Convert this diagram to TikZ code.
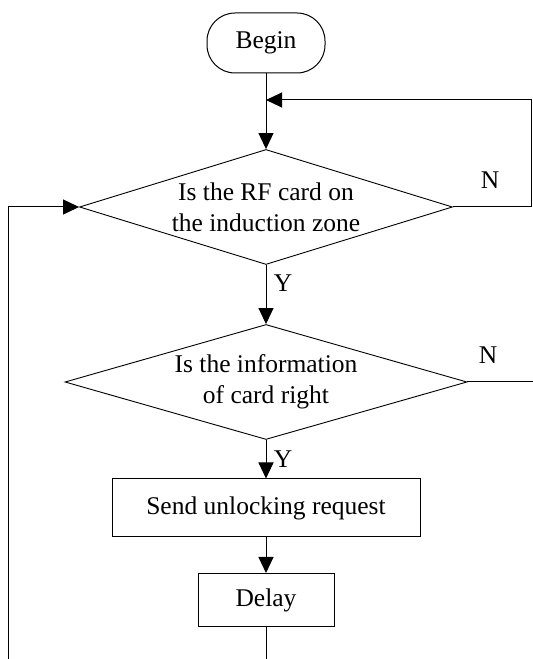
\documentclass[tikz,border=0pt]{standalone}
\usepackage{fontspec}
\setmainfont{Liberation Serif}
\usepackage{tikz}
\usetikzlibrary{shapes,arrows.meta,positioning}

\begin{document}
\begin{tikzpicture}[x=1pt, y=1pt,
    every node/.style={font=\fontsize{25.5}{31}\selectfont},
    cardbox/.style={rectangle, draw, line width=1pt, inner sep=0pt, align=center},
    cardtest/.style={diamond, draw, line width=0.9pt, inner sep=-10pt, align=center},
    arr/.style={-{Triangle[length=16pt, width=15pt]}, line width=1pt},
    lin/.style={line width=1pt}
]
    \useasboundingbox (0,0) rectangle (533,659);

    \node[cardbox, rounded corners=28pt, minimum width=118pt, minimum height=60pt] (begin) at (266,616) {Begin};
    \coordinate (join) at (266,559);
    \node[cardtest, aspect=3.24, minimum width=373pt, minimum height=115pt] (zone) at (266,452) {Is the RF card on\\the induction zone};
    \node[cardtest, aspect=3.5, minimum width=402pt, minimum height=115pt] (info) at (266,277) {Is the information\\of card right};
    \node[cardbox, minimum width=308pt, minimum height=58pt] (send) at (266,151) {Send unlocking request};
    \node[cardbox, minimum width=136pt, minimum height=53pt] (delay) at (266,59) {Delay};

    % free ends at the picture's edges
    \coordinate (rtop) at (531,559);
    \coordinate (rzone) at (531,452);
    \coordinate (rinfo) at (533,277);
    \coordinate (lbot) at (8,0);
    \coordinate (lzone) at (8,452);
    \coordinate (dbot) at (266,0);

    \draw[lin] (begin) -- (join);
    \draw[arr] (join) -- (zone);
    \draw[arr] (zone) -- (info) node[pos=0.3, right=4pt] (y1) {Y};
    \draw[arr] (info) -- (send) node[pos=0.5, right=4pt] (y2) {Y};
    \draw[arr] (send) -- (delay);
    \draw[lin] (delay) -- (dbot);

    \draw[arr] (zone.east) -- (rzone) -- (rtop) -- (join);
    \draw[lin] (info.east) -- (rinfo);
    \draw[arr] (lbot) -- (lzone) -- (zone.west);

    \node (n1) at (490,479) {N};
    \node (n2) at (488,304) {N};
\end{tikzpicture}
\end{document}
